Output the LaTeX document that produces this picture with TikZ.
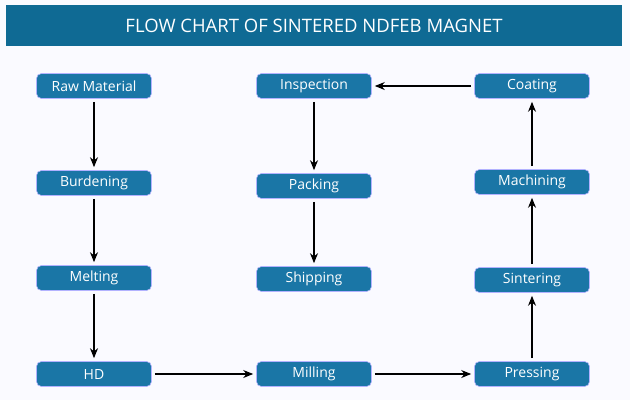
\documentclass[tikz,border=0pt]{standalone}
\usepackage{fontspec}
\setmainfont{Open Sans}
\usetikzlibrary{arrows.meta}
\begin{document}
\begin{tikzpicture}[x=1pt,y=-1pt,
 box/.style={draw=white!70!blue,line width=0.6pt,fill=nodeblue,rounded corners=5pt,minimum width=115pt,minimum height=25pt,text=white,font=\fontsize{14}{16}\selectfont,inner sep=0pt},
 arr/.style={-{Stealth[length=10pt,width=8pt]},line width=1.2pt,shorten <=3pt,shorten >=3pt}]
\definecolor{nodeblue}{HTML}{1A76A6}
\definecolor{headblue}{HTML}{0F6A94}
\useasboundingbox (0,0) rectangle (630,400);
\fill[white!98!blue] (0,0) rectangle (630,400);
\fill[headblue] (6,5) rectangle (622,46);
\node[text=white,font=\fontsize{18.5}{20}\selectfont] (title) at (314,26) {FLOW CHART OF SINTERED NDFEB MAGNET};
\node[box] (raw) at (94,86) {Raw Material};
\node[box] (bur) at (94,183) {Burdening};
\node[box] (mel) at (94,278) {Melting};
\node[box] (hd) at (94,374) {HD};
\node[box] (ins) at (314,86) {Inspection};
\node[box] (pac) at (314,186) {Packing};
\node[box] (shi) at (314,279) {Shipping};
\node[box] (mil) at (314,374) {Milling};
\node[box] (coa) at (532,86) {Coating};
\node[box] (mac) at (532,182) {Machining};
\node[box] (sin) at (532,280) {Sintering};
\node[box] (pre) at (532,374) {Pressing};
\draw[arr] (raw) -- (bur);
\draw[arr] (bur) -- (mel);
\draw[arr] (mel) -- (hd);
\draw[arr] (hd) -- (mil);
\draw[arr] (mil) -- (pre);
\draw[arr] (pre) -- (sin);
\draw[arr] (sin) -- (mac);
\draw[arr] (mac) -- (coa);
\draw[arr] (coa) -- (ins);
\draw[arr] (ins) -- (pac);
\draw[arr] (pac) -- (shi);
\end{tikzpicture}
\end{document}
